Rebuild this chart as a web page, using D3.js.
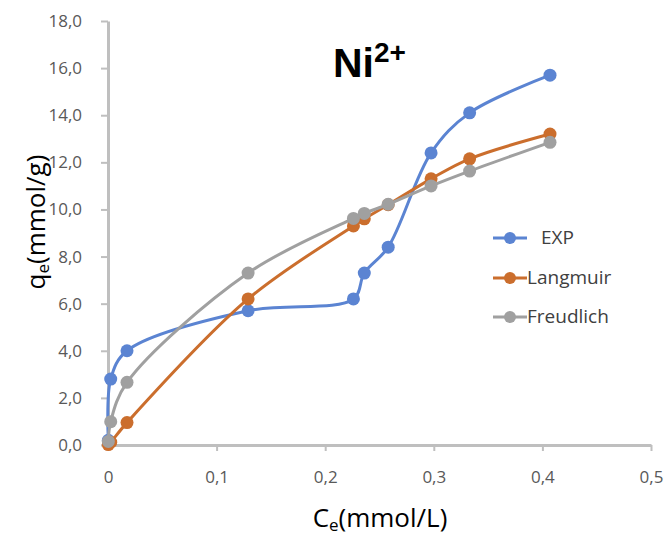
<!DOCTYPE html>
<html><head><meta charset="utf-8">
<script src="https://cdn.jsdelivr.net/npm/d3@7"></script>
<style>
html,body{margin:0;padding:0;background:#fff;}
svg{display:block;font-family:"Open Sans",sans-serif;}
</style></head>
<body><svg id="c" width="667" height="535"></svg>
<script>
const ce = [0.0003, 0.0025, 0.0175, 0.129, 0.226, 0.236, 0.258, 0.2975, 0.333, 0.407];
const expVals = [0.2, 2.8, 4.0, 5.7, 6.2, 7.3, 8.4, 12.4, 14.1, 15.7];
const langmuirVals = [0.02, 0.12, 0.95, 6.2, 9.3, 9.6, 10.2, 11.3, 12.15, 13.2];
const freudlichVals = [0.15, 0.99, 2.66, 7.3, 9.62, 9.83, 10.22, 11.0, 11.63, 12.85];
const seriesNames = ["EXP", "Langmuir", "Freudlich"];
const seriesColors = ["#5B84D2", "#CB6E2D", "#A0A0A0"];
const xTicks = [0, 0.1, 0.2, 0.3, 0.4, 0.5];
const yTicks = [0, 2, 4, 6, 8, 10, 12, 14, 16, 18];

const svg = d3.select("#c");
const x = d3.scaleLinear().domain([0, 0.5]).range([108, 651]);
const y = d3.scaleLinear().domain([0, 18]).range([445, 21]);
const fmtX = v => v === 0 ? "0" : d3.format(".1f")(v).replace(".", ",");
const fmtY = v => d3.format(".1f")(v).replace(".", ",");

// axes
const xAxis = svg.append("g").attr("transform", "translate(0,445)")
  .call(d3.axisBottom(x).tickValues(xTicks).tickFormat(fmtX).tickSize(6).tickSizeOuter(0).tickPadding(20));
const yAxis = svg.append("g").attr("transform", "translate(108,0)")
  .call(d3.axisLeft(y).tickValues(yTicks).tickFormat(fmtY).tickSize(7).tickSizeOuter(0).tickPadding(19));
[xAxis, yAxis].forEach(g => {
  g.select(".domain").attr("stroke", "#BFBFBF").attr("stroke-width", 3);
  g.selectAll(".tick line").attr("stroke", "#BFBFBF").attr("stroke-width", 2);
  g.selectAll(".tick text").attr("fill", "#595959").style("font-size", "17px").style("font-family", "Open Sans, sans-serif");
});

const data = [expVals, langmuirVals, freudlichVals].map((vals, i) => ({
  name: seriesNames[i], color: seriesColors[i],
  pts: ce.map((c, j) => [c, vals[j]])
}));
const line = d3.line().x(d => x(d[0])).y(d => y(d[1])).curve(d3.curveCatmullRom.alpha(0.5));

data.forEach(s => {
  const g = svg.append("g");
  g.append("path").attr("d", line(s.pts)).attr("fill", "none")
    .attr("stroke", s.color).attr("stroke-width", 3).attr("stroke-linejoin", "round");
  g.selectAll("circle").data(s.pts).join("circle")
    .attr("cx", d => x(d[0])).attr("cy", d => y(d[1])).attr("r", 6.5).attr("fill", s.color);
});

// legend
const legY = [238, 278, 317];
const legTextX = [541, 527, 527];
data.forEach((s, i) => {
  const g = svg.append("g");
  g.append("line").attr("x1", 493).attr("x2", 527).attr("y1", legY[i]).attr("y2", legY[i])
    .attr("stroke", s.color).attr("stroke-width", 3);
  g.append("circle").attr("cx", 510).attr("cy", legY[i]).attr("r", 6).attr("fill", s.color);
  g.append("text").attr("x", legTextX[i]).attr("y", legY[i] + 6).text(s.name)
    .attr("fill", "#404040").style("font-size", "19px");
});

// title
const t = svg.append("text").attr("x", 333).attr("y", 77).attr("fill", "#000")
  .style("font-size", "41px").style("font-weight", "bold").style("font-family", "Liberation Sans, Arial, sans-serif");
t.append("tspan").text("Ni");
t.append("tspan").text("2+").attr("dy", -15).style("font-size", "28px");

// x axis title
const xt = svg.append("text").attr("x", 380).attr("y", 527).attr("text-anchor", "middle")
  .attr("fill", "#000").style("font-size", "26px");
xt.append("tspan").text("C");
xt.append("tspan").text("e").attr("dy", 4).style("font-size", "17px");
xt.append("tspan").text("(mmol/L)").attr("dy", -4);

// y axis title
const yt = svg.append("text").attr("transform", "translate(45,222) rotate(-90)").attr("text-anchor", "middle")
  .attr("fill", "#000").style("font-size", "26px");
yt.append("tspan").text("q");
yt.append("tspan").text("e").attr("dy", 4).style("font-size", "17px");
yt.append("tspan").text("(mmol/g)").attr("dy", -4);
</script></body></html>
